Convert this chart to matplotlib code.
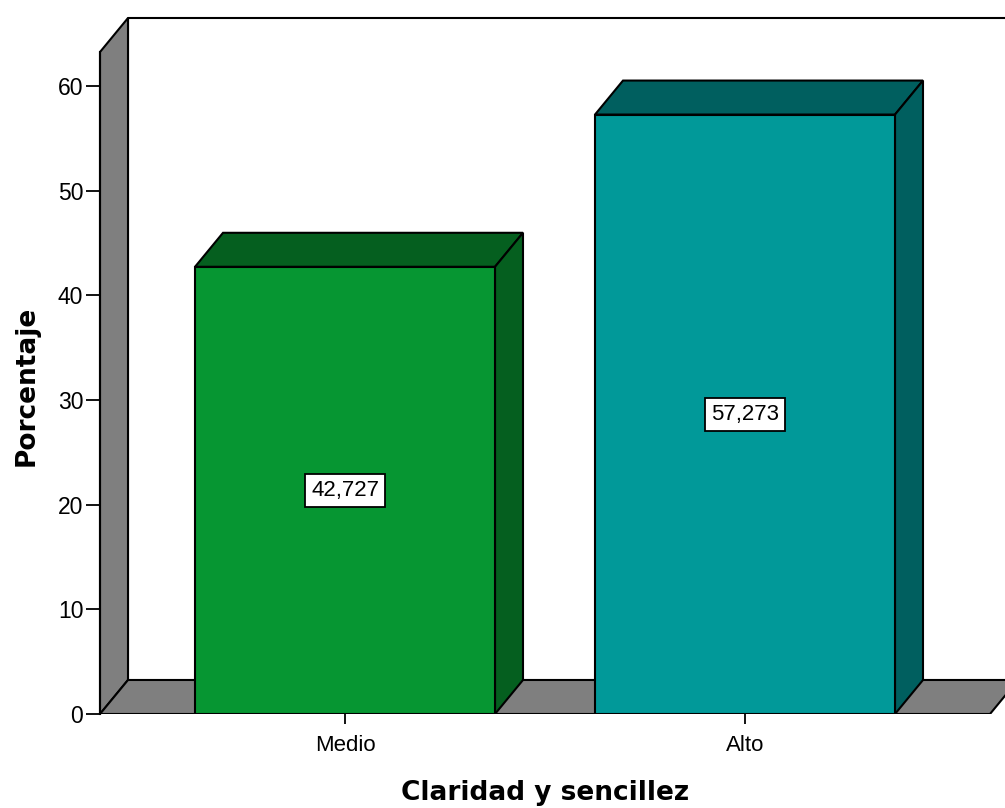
import numpy as np
import matplotlib.pyplot as plt
from matplotlib.patches import Polygon

# data
categories = ['Medio', 'Alto']
percentages = [42.727, 57.273]
yticks = [0, 10, 20, 30, 40, 50, 60]
xlabel = 'Claridad y sencillez'
ylabel = 'Porcentaje'

front_colors = ['#069632', '#019999']
shade_colors = ['#055F1F', '#005F5F']
wall_color = '#7F7F7F'

# 3d look: depth offset in data units
dx = 0.07
dy = 3.25
bar_w = 0.75
xmin, xmax = -0.6125, 1.65
ymax = 66.5
wall_top = ymax - dy
floor_right = 1.6125

fig = plt.figure(figsize=(10.05, 8.08), dpi=100)
ax = fig.add_axes([100/1005, 94/808, 905/1005, 696/808])
ax.set_xlim(xmin, xmax)
ax.set_ylim(0, ymax)

# back wall outline
ax.plot([xmin + dx, xmin + dx, xmax], [dy, ymax, ymax], color='black', lw=1.5,
        clip_on=False, zorder=2, solid_capstyle='butt')

# left wall
ax.add_patch(Polygon([(xmin, 0), (xmin + dx, dy), (xmin + dx, ymax), (xmin, wall_top)],
                     closed=True, facecolor=wall_color, edgecolor='black', lw=1.5,
                     zorder=3, clip_on=False))
# floor
ax.add_patch(Polygon([(xmin, 0), (floor_right, 0), (floor_right + dx, dy), (xmin + dx, dy)],
                     closed=True, facecolor=wall_color, edgecolor='black', lw=1.5,
                     zorder=3))

x = np.arange(len(categories))
ax.bar(x, percentages, width=bar_w, color=front_colors, edgecolor='black', lw=1.5, zorder=5)
for xi, v, c in zip(x, percentages, shade_colors):
    l, r = xi - bar_w / 2, xi + bar_w / 2
    top = [(l, v), (r, v), (r + dx, v + dy), (l + dx, v + dy)]
    side = [(r, 0), (r + dx, dy), (r + dx, v + dy), (r, v)]
    for pts in (top, side):
        ax.add_patch(Polygon(pts, closed=True, facecolor=c, edgecolor='black',
                             lw=1.5, zorder=4))
    ax.text(xi, v / 2, f'{v:.3f}'.replace('.', ','), ha='center', va='center',
            fontsize=16, family='Liberation Sans', zorder=6,
            bbox=dict(boxstyle='square,pad=0.28', facecolor='white',
                      edgecolor='black', lw=1.3))

for s in ['top', 'right', 'bottom']:
    ax.spines[s].set_visible(False)
ax.spines['left'].set_bounds(0, wall_top)
ax.spines['left'].set_linewidth(1.5)
ax.spines['left'].set_zorder(6)

ax.set_yticks(yticks)
ax.set_xticks(x)
ax.set_xticklabels(categories)
ax.tick_params(axis='y', length=10, width=1.3, labelsize=16.5, pad=2)
ax.tick_params(axis='x', length=7, width=1.3, labelsize=16, pad=8)
for lab in ax.get_xticklabels() + ax.get_yticklabels():
    lab.set_family('Liberation Sans')

ax.set_xlabel(xlabel, fontsize=19, fontweight='bold', family='DejaVu Sans')
ax.xaxis.set_label_coords(445 / 905, -66 / 696)
ax.set_ylabel(ylabel, fontsize=19, fontweight='bold', family='DejaVu Sans')
ax.yaxis.set_label_coords(-60 / 905, 328 / 696)

fig.savefig('out.png', dpi=100)
